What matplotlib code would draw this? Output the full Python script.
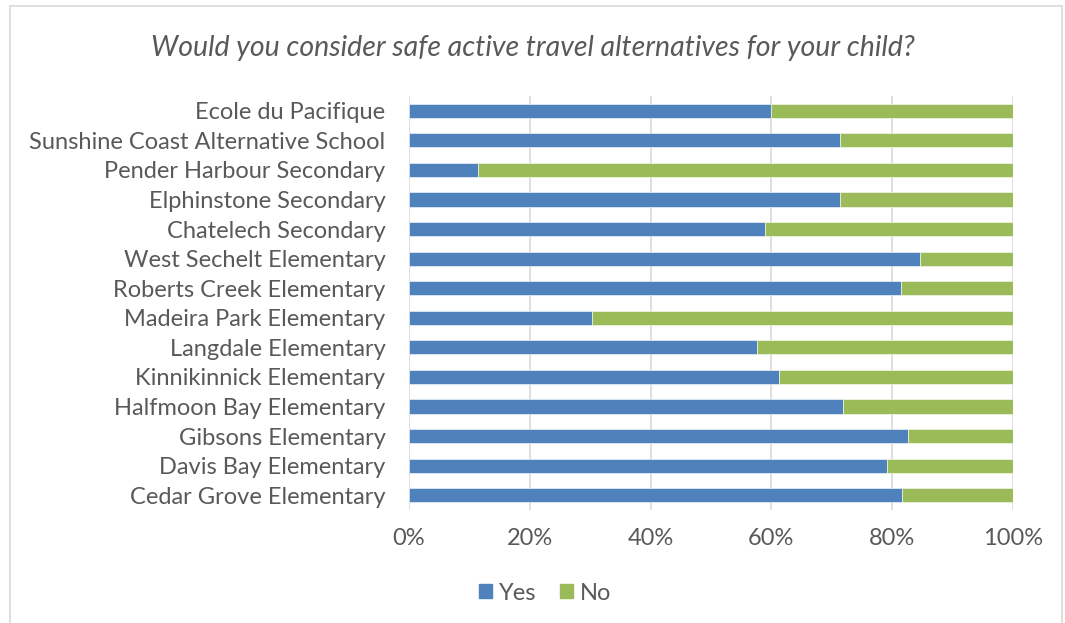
import matplotlib.pyplot as plt
from matplotlib.patches import Rectangle, Patch
import numpy as np

schools = ["Ecole du Pacifique", "Sunshine Coast Alternative School", "Pender Harbour Secondary",
           "Elphinstone Secondary", "Chatelech Secondary", "West Sechelt Elementary",
           "Roberts Creek Elementary", "Madeira Park Elementary", "Langdale Elementary",
           "Kinnikinnick Elementary", "Halfmoon Bay Elementary", "Gibsons Elementary",
           "Davis Bay Elementary", "Cedar Grove Elementary"]
yes_pct = [60.0, 71.4, 11.5, 71.4, 59.0, 84.6, 81.5, 30.3, 57.6, 61.2, 71.8, 82.6, 79.1, 81.7]
no_pct = [100 - v for v in yes_pct]
ticks = [0, 20, 40, 60, 80, 100]

blue = "#4F81BD"
green = "#9BBB59"
grey = "#595959"

plt.rcParams['font.family'] = ['Lato', 'DejaVu Sans']

fig = plt.figure(figsize=(10.65, 6.23), dpi=100)
fig.patches.append(Rectangle((10/1065, -0.05), 1052/1065, 1.0 - 6/623 + 0.05, transform=fig.transFigure,
                             fill=False, edgecolor="#D9D9D9", linewidth=1.2))
ax = fig.add_axes([409/1065, 1 - 510/623, 604/1065, 414/623])

pos = np.arange(len(schools))
ax.barh(pos, yes_pct, height=0.48, color=blue, edgecolor="white", linewidth=0.4, label="Yes", zorder=3)
ax.barh(pos, no_pct, left=yes_pct, height=0.48, color=green, edgecolor="white", linewidth=0.4, label="No", zorder=3)

ax.set_ylim(len(schools) - 0.5, -0.5)
ax.set_xlim(0, 100)
ax.set_yticks(pos)
ax.set_yticklabels(schools)
ax.set_xticks(ticks)
ax.set_xticklabels([f"{t}%" for t in ticks])
ax.tick_params(axis='y', length=0, pad=17, labelsize=17, labelcolor=grey)
ax.tick_params(axis='x', length=0, pad=13, labelsize=17, labelcolor=grey)
ax.grid(axis='x', color="#D9D9D9", linewidth=1.2, zorder=0)
for s in ax.spines.values():
    s.set_visible(False)

fig.text(0.5, 1 - 48/623, "Would you consider safe active travel alternatives for your child?",
         ha='center', va='center', fontsize=20.5, style='italic', color=grey)

handles = [Patch(color=blue, label="Yes"), Patch(color=green, label="No")]
fig.legend(handles=handles, loc='center', bbox_to_anchor=(545/1065, 1 - 593/623), ncol=2,
           frameon=False, fontsize=17, labelcolor=grey, handlelength=0.55, handleheight=0.55,
           handletextpad=0.3, columnspacing=1.0)

fig.savefig("out.png", dpi=100)
